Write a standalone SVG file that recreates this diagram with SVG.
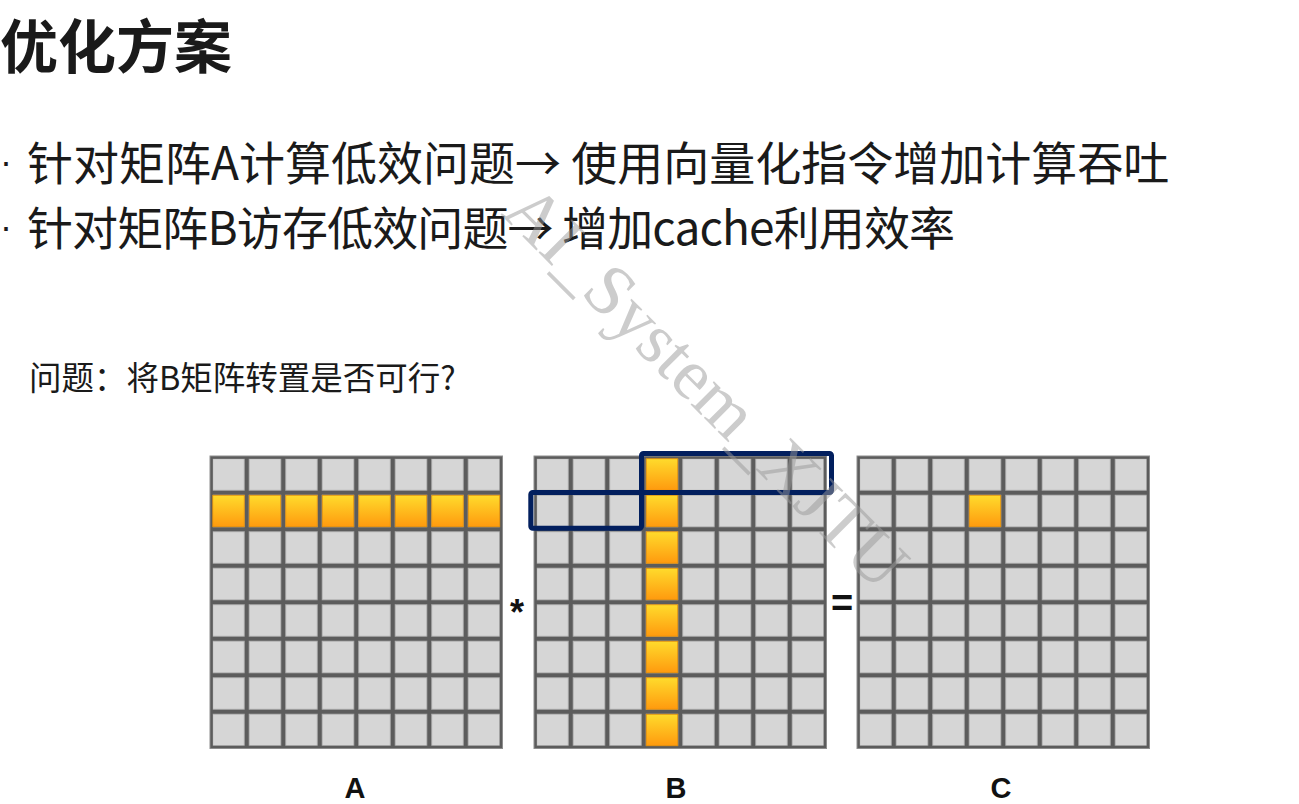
<svg xmlns="http://www.w3.org/2000/svg" width="1299" height="804" viewBox="0 0 1299 804">
<style>
.cjk{font-family:"Noto Sans CJK SC","Noto Sans",sans-serif;fill:#1a1a1a}
.title{font-size:58px;font-weight:700}
.bul{font-size:46px}
.dot{font-family:"Liberation Sans",Arial,sans-serif;font-size:36px;fill:#1a1a1a}
.q{font-size:32.5px}
.lbl{font-family:"Liberation Sans",Arial,sans-serif;font-weight:700;fill:#111;font-size:29px;text-anchor:middle}
.gbg{fill:#5c5c5c;stroke:#8e8e8e;stroke-width:1}
.hot{fill:url(#og);stroke:#e08a00;stroke-width:0.8}
.sel{fill:none;stroke:#021f5e;stroke-width:5;stroke-linejoin:round}
.wm{font-family:"Liberation Serif","Times New Roman",serif;font-size:72px;fill:#9a9a9a;opacity:0.5}
</style>
<defs>
<linearGradient id="og" x1="0" y1="0" x2="0" y2="1">
<stop offset="0" stop-color="#ffdb2c"/>
<stop offset="1" stop-color="#ff9a0e"/>
</linearGradient>
<pattern id="cells" patternUnits="userSpaceOnUse" x="0.25" y="0.25" width="36.5" height="36.5">
<rect x="2.5" y="2.5" width="31.5" height="31.5" fill="#d6d6d6" stroke="#b4b4b4" stroke-width="0.8"/>
</pattern>
<g id="grid">
<rect class="gbg" x="0" y="0" width="292.5" height="292.5"/>
<rect x="2.75" y="2.75" width="287" height="287" fill="url(#cells)"/>
</g>
</defs>

<g id="title"><text class="cjk title" x="0" y="68">优化方案</text></g>

<g id="bullets">
<text class="dot" x="0" y="174">·</text>
<text class="cjk bul" x="27" y="180">针对矩阵A计算低效问题→ 使用向量化指令增加计算吞吐</text>
<text class="dot" x="0" y="239">·</text>
<text class="cjk bul" x="27" y="245" textLength="928" lengthAdjust="spacing">针对矩阵B访存低效问题→ 增加cache利用效率</text>
</g>

<g id="question"><text class="cjk q" x="29" y="390">问题：将B矩阵转置是否可行?</text></g>

<g id="matrixA" transform="translate(210,456)">
<use href="#grid"/>
<rect class="hot" x="2.75" y="39.25" width="31.5" height="31.5"/>
<rect class="hot" x="39.25" y="39.25" width="31.5" height="31.5"/>
<rect class="hot" x="75.75" y="39.25" width="31.5" height="31.5"/>
<rect class="hot" x="112.25" y="39.25" width="31.5" height="31.5"/>
<rect class="hot" x="148.75" y="39.25" width="31.5" height="31.5"/>
<rect class="hot" x="185.25" y="39.25" width="31.5" height="31.5"/>
<rect class="hot" x="221.75" y="39.25" width="31.5" height="31.5"/>
<rect class="hot" x="258.25" y="39.25" width="31.5" height="31.5"/>
</g>

<g id="matrixB" transform="translate(534,456)">
<use href="#grid"/>
<rect class="hot" x="112.25" y="2.75" width="31.5" height="31.5"/>
<rect class="hot" x="112.25" y="39.25" width="31.5" height="31.5"/>
<rect class="hot" x="112.25" y="75.75" width="31.5" height="31.5"/>
<rect class="hot" x="112.25" y="112.25" width="31.5" height="31.5"/>
<rect class="hot" x="112.25" y="148.75" width="31.5" height="31.5"/>
<rect class="hot" x="112.25" y="185.25" width="31.5" height="31.5"/>
<rect class="hot" x="112.25" y="221.75" width="31.5" height="31.5"/>
<rect class="hot" x="112.25" y="258.25" width="31.5" height="31.5"/>
</g>

<g id="matrixC" transform="translate(857,456)">
<use href="#grid"/>
<rect class="hot" x="112.25" y="39.25" width="31.5" height="31.5"/>
</g>

<g id="selections">
<rect class="sel" x="641.5" y="453.5" width="190" height="39" rx="2"/>
<rect class="sel" x="530.8" y="492.5" width="110.7" height="35.7" rx="2"/>
</g>

<g id="operators">
<text class="lbl" x="517" y="625" style="font-size:36px">*</text>
<text class="lbl" x="842" y="616" style="font-size:38px">=</text>
</g>

<g id="labels">
<text class="lbl" x="355" y="798">A</text>
<text class="lbl" x="676" y="798">B</text>
<text class="lbl" x="1001" y="798">C</text>
</g>

<g id="watermark"><text class="wm" x="500" y="214" transform="rotate(45 500 214)">AI_System_XJTU</text></g>
</svg>
